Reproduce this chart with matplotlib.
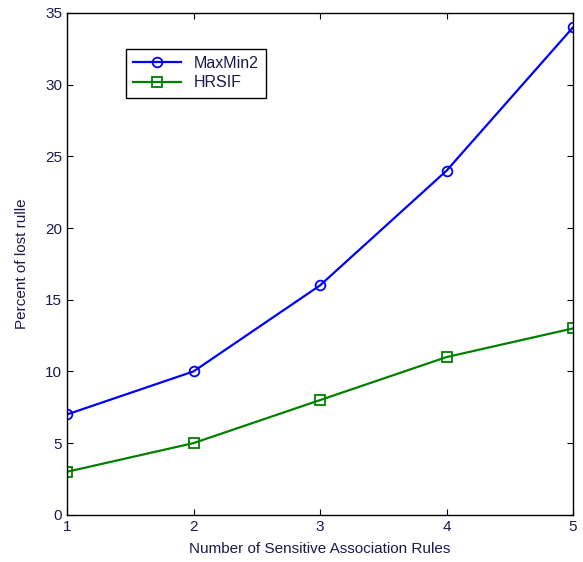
import matplotlib
matplotlib.use('Agg')
import matplotlib.pyplot as plt

rules = [1, 2, 3, 4, 5]
maxmin2 = [7, 10, 16, 24, 34]
hrsif = [3, 5, 8, 11, 13]

plt.rcParams['font.family'] = 'Liberation Sans'

fig = plt.figure(figsize=(5.83, 5.62), dpi=100)
ax = fig.add_axes([0.115, 0.084, 0.868, 0.893])

ax.plot(rules, maxmin2, color='#0000ff', marker='o', markersize=7,
        markerfacecolor='none', markeredgewidth=1.3, linewidth=1.6, label='MaxMin2')
ax.plot(rules, hrsif, color='#008000', marker='s', markersize=7,
        markerfacecolor='none', markeredgewidth=1.3, linewidth=1.6, label='HRSIF')

ax.set_xlim(1, 5)
ax.set_ylim(0, 35)
ax.set_xticks(rules)
ax.set_yticks(range(0, 36, 5))
ax.tick_params(direction='in', top=True, right=True, labelsize=11,
               labelcolor='#1a1a4a', length=4)
for s in ax.spines.values():
    s.set_linewidth(1.0)

ax.set_xlabel('Number of Sensitive Association Rules', fontsize=11,
              color='#1a1a4a', labelpad=6)
ax.set_ylabel('Percent of lost rulle', fontsize=11, color='#1a1a4a', labelpad=12)

leg = ax.legend(loc='upper left', bbox_to_anchor=(0.1, 0.945), fontsize=11.5,
                fancybox=False, edgecolor='black', framealpha=1, handlelength=3,
                borderpad=0.45, labelspacing=0.3)
leg.get_frame().set_linewidth(1.0)
for t in leg.get_texts():
    t.set_color('#1a1a4a')

fig.savefig('out.png', dpi=100)
